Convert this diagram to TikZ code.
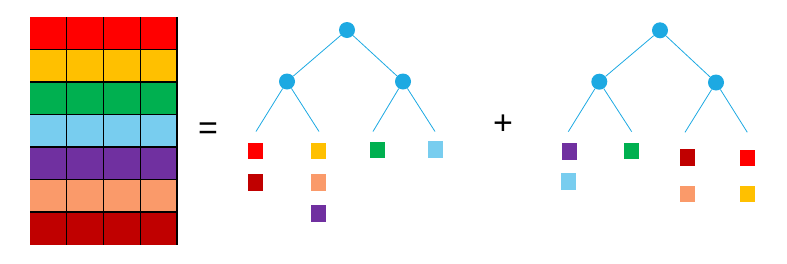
\documentclass[tikz,border=0pt]{standalone}
\usepackage{fontspec}
\setmainfont{Liberation Sans}
\begin{document}
\definecolor{cred}{HTML}{FF0000}
\definecolor{cyellow}{HTML}{FFC000}
\definecolor{cgreen}{HTML}{00B050}
\definecolor{clblue}{HTML}{78CDEF}
\definecolor{cpurple}{HTML}{7030A0}
\definecolor{csalmon}{HTML}{FA9A6A}
\definecolor{cdred}{HTML}{C00000}
\definecolor{cnode}{HTML}{1DA9E2}
\begin{tikzpicture}[x=1pt,y=-1pt,
  tnode/.style={circle,fill=cnode,inner sep=0pt,minimum size=16pt},
  edge/.style={draw=cnode,line width=0.8pt},
  leaf/.style={rectangle,inner sep=0pt,minimum width=15pt,minimum height=16.5pt},
  sign/.style={inner sep=0pt,font=\fontsize{34}{34}\selectfont}]
\useasboundingbox (0,0) rectangle (787,263);
% colour matrix: 4 columns x 7 rows
\foreach \c [count=\r from 0] in {cred,cyellow,cgreen,clblue,cpurple,csalmon,cdred}{
  \fill[\c] (30,17+32.5*\r) rectangle (177,17+32.5*\r+32.5);
}
\foreach \i in {1,...,6} \draw[line width=1.4pt] (30,17+32.5*\i) -- (177,17+32.5*\i);
\foreach \j in {1,...,4} \draw[line width=1.4pt] (30+36.75*\j,17) -- (30+36.75*\j,244.5);
\node[sign] (eq) at (208,131) {=};
\node[sign] (plus) at (503,125) {+};
% first tree
\node[tnode] (a) at (347,30) {};
\node[tnode] (al) at (287,81.5) {};
\node[tnode] (ar) at (403,81.5) {};
\coordinate (a1) at (256,131.5);
\coordinate (a2) at (319,131.5);
\coordinate (a3) at (373,131.5);
\coordinate (a4) at (435,131.5);
\draw[edge] (a) -- (al);
\draw[edge] (a) -- (ar);
\draw[edge] (al) -- (a1);
\draw[edge] (al) -- (a2);
\draw[edge] (ar) -- (a3);
\draw[edge] (ar) -- (a4);
\node[leaf,fill=cred] (a1r) at (255.3,151.2) {};
\node[leaf,fill=cdred] (a1d) at (255.3,182.3) {};
\node[leaf,fill=cyellow] (a2y) at (318.5,151.2) {};
\node[leaf,fill=csalmon] (a2s) at (318.5,182.3) {};
\node[leaf,fill=cpurple] (a2p) at (318.5,213.3) {};
\node[leaf,fill=cgreen] (a3g) at (377.5,149.8) {};
\node[leaf,fill=clblue] (a4b) at (435,149.4) {};
% second tree
\node[tnode] (b) at (660,30.3) {};
\node[tnode] (bl) at (599.3,81.7) {};
\node[tnode] (br) at (716,82.5) {};
\coordinate (b1) at (568.3,131.7);
\coordinate (b2) at (631.7,131.7);
\coordinate (b3) at (685,132.3);
\coordinate (b4) at (747.3,132.3);
\draw[edge] (b) -- (bl);
\draw[edge] (b) -- (br);
\draw[edge] (bl) -- (b1);
\draw[edge] (bl) -- (b2);
\draw[edge] (br) -- (b3);
\draw[edge] (br) -- (b4);
\node[leaf,fill=cpurple] (b1p) at (569,151.3) {};
\node[leaf,fill=clblue] (b1b) at (568,181.3) {};
\node[leaf,fill=cgreen] (b2g) at (631,150.8) {};
\node[leaf,fill=cdred] (b3d) at (687.5,157.3) {};
\node[leaf,fill=csalmon] (b3s) at (687.5,193.8) {};
\node[leaf,fill=cred] (b4r) at (747.5,157.8) {};
\node[leaf,fill=cyellow] (b4y) at (747.5,193.8) {};
\end{tikzpicture}
\end{document}
